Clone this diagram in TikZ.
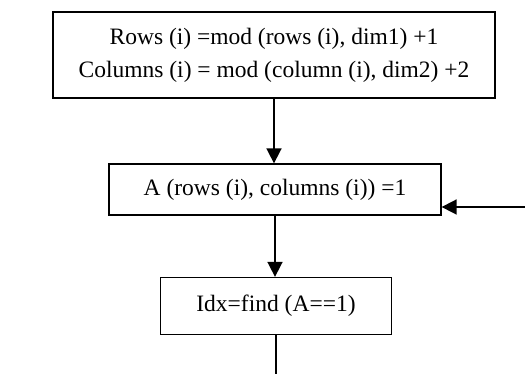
\documentclass[tikz,border=0pt]{standalone}
\usepackage{fontspec}
\setmainfont{Liberation Serif}
\usetikzlibrary{arrows.meta}
\tikzstyle{block} = [rectangle, draw=black, line width=1.3pt, text centered, align=center, font=\fontsize{23.5}{33}\selectfont]
\tikzstyle{arrow} = [line width=1.7pt,-{Triangle[length=15pt,width=15pt]}]
\tikzstyle{plain} = [line width=1.3pt]

\begin{document}
\begin{tikzpicture}
[x=1pt,y=1pt]
\useasboundingbox (0,0) rectangle (525,-374);

\node (update) [block, minimum width=442pt, minimum height=86pt] at (274,-55) {Rows (i) =mod (rows (i), dim1) +1\\Columns (i) = mod (column (i), dim2) +2};
\node (assign) [block, minimum width=332pt, minimum height=51pt] at (275,-189.5) {A (rows (i), columns (i)) =1};
\node (find) [block, minimum width=231pt, minimum height=57pt] at (276,-306) {Idx=find (A==1)};
\coordinate (loopin) at (525,-207);
\coordinate (out) at (276,-374);

\draw [arrow] (update.south) -- (update.south |- assign.north);
\draw [arrow] (assign.south) -- (assign.south |- find.north);
\draw [arrow] (loopin) -- (loopin -| assign.east);
\draw [plain] (find.south) -- (find.south |- out);

\end{tikzpicture}
\end{document}
